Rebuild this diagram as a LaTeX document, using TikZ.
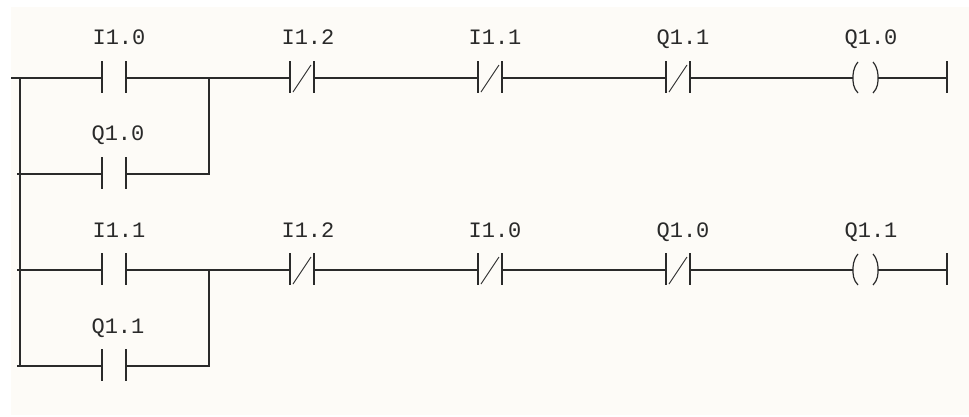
\documentclass[tikz,border=0pt]{standalone}
\usepackage{fontspec}
\setmonofont{Liberation Mono}
\definecolor{bgc}{HTML}{FDFBF7}
\definecolor{ink}{HTML}{2A2A2A}
\tikzset{
  x=1pt,y=-1pt,
  wire/.style={draw=ink,line width=1.2pt},
  lbl/.style={text=ink,font=\ttfamily\fontsize{22}{24}\selectfont,inner sep=0pt,anchor=base},
}
\newcommand{\nocontact}[3]{% name, x, y
  \coordinate (#1L) at (#2,#3);
  \coordinate (#1R) at (#2+24,#3);
  \draw[wire] (#2,#3-17) -- (#2,#3+15);
  \draw[wire] (#2+24,#3-17) -- (#2+24,#3+15);
}
\newcommand{\nccontact}[3]{% name, x, y
  \nocontact{#1}{#2}{#3}
  \draw[draw=ink,line width=.9pt] (#2+3,#3+14) -- (#2+21,#3-13);
}
\newcommand{\coil}[3]{% name, x, y
  \coordinate (#1L) at (#2,#3);
  \coordinate (#1R) at (#2+25,#3);
  \draw[wire] (#2+5,#3-16) .. controls (#2,#3-10) and (#2,#3-4) .. (#2,#3) .. controls (#2,#3+4) and (#2,#3+10) .. (#2+5,#3+15);
  \draw[wire] (#2+20,#3-16) .. controls (#2+25,#3-10) and (#2+25,#3-4) .. (#2+25,#3) .. controls (#2+25,#3+4) and (#2+25,#3+10) .. (#2+20,#3+15);
}
\begin{document}
\begin{tikzpicture}
\useasboundingbox (0,0) rectangle (969,416);
\fill[white] (0,0) rectangle (969,416);
\fill[bgc] (11,7) rectangle (969,415);
\coordinate (railTop) at (20,78);
\coordinate (railEnd) at (20,366);
\coordinate (start1) at (11,78);
\coordinate (start2) at (17,174);
\coordinate (start3) at (17,270);
\coordinate (start4) at (17,366);
\coordinate (j1) at (209,78);
\coordinate (j2) at (209,174);
\coordinate (j3) at (209,270);
\coordinate (j4) at (209,366);
\nocontact{a}{102}{78}
\nocontact{b}{102}{174}
\nccontact{c}{290}{78}
\nccontact{d}{478}{78}
\nccontact{e}{666}{78}
\coil{f}{853}{78}
\coordinate (endA) at (947,78);
\draw[wire] (947,61) -- (947,93);
\nocontact{g}{102}{270}
\nocontact{h}{102}{366}
\nccontact{i}{290}{270}
\nccontact{k}{478}{270}
\nccontact{l}{666}{270}
\coil{m}{853}{270}
\coordinate (endB) at (947,270);
\draw[wire] (947,253) -- (947,285);
\draw[wire] (railTop) -- (railEnd);
\draw[wire] (start1) -- (aL);
\draw[wire] (start2) -- (bL);
\draw[wire] (start3) -- (gL);
\draw[wire] (start4) -- (hL);
\draw[wire] (aR) -- (j1) -- (cL);
\draw[wire] (bR) -- (j2) -- (j1);
\draw[wire] (cR) -- (dL);
\draw[wire] (dR) -- (eL);
\draw[wire] (eR) -- (fL);
\draw[wire] (fR) -- (endA);
\draw[wire] (gR) -- (j3) -- (iL);
\draw[wire] (hR) -- (j4) -- (j3);
\draw[wire] (iR) -- (kL);
\draw[wire] (kR) -- (lL);
\draw[wire] (lR) -- (mL);
\draw[wire] (mR) -- (endB);
\node[lbl] (t1) at (119,44) {I1.0};
\node[lbl] (t2) at (118,140) {Q1.0};
\node[lbl] (t3) at (308,44) {I1.2};
\node[lbl] (t4) at (495,44) {I1.1};
\node[lbl] (t5) at (683,44) {Q1.1};
\node[lbl] (t6) at (871,44) {Q1.0};
\node[lbl] (t7) at (119,237) {I1.1};
\node[lbl] (t8) at (118,333) {Q1.1};
\node[lbl] (t9) at (308,237) {I1.2};
\node[lbl] (t10) at (495,237) {I1.0};
\node[lbl] (t11) at (683,237) {Q1.0};
\node[lbl] (t12) at (871,237) {Q1.1};
\end{tikzpicture}
\end{document}
